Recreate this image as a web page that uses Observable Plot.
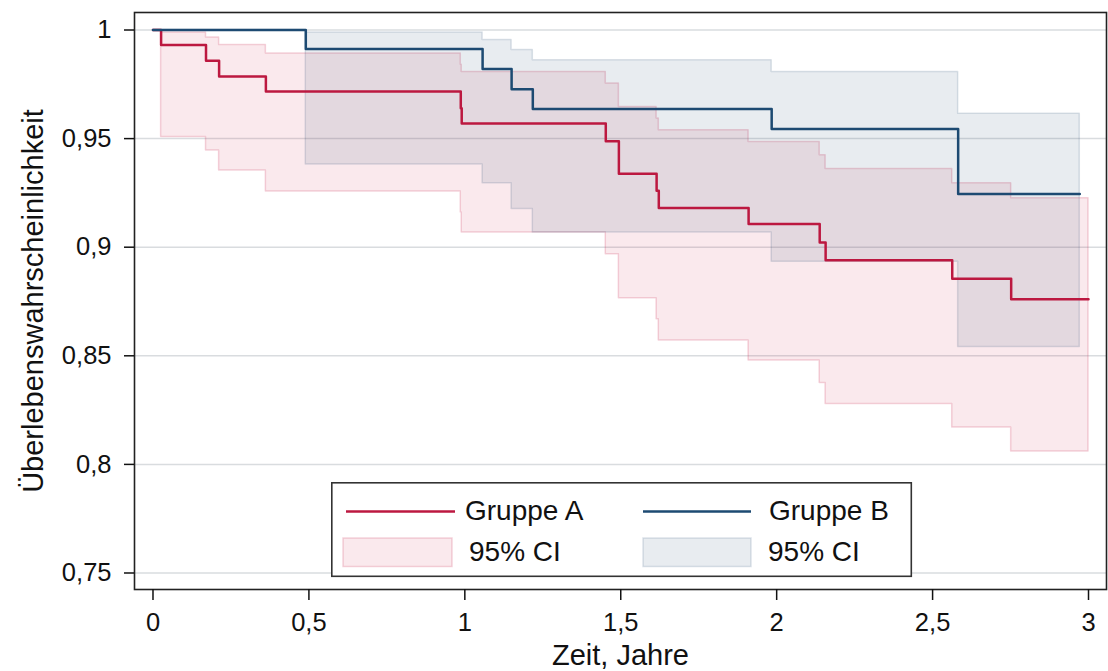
<!DOCTYPE html>
<html><head><meta charset="utf-8">
<script src="https://cdn.jsdelivr.net/npm/d3@7"></script>
<script src="https://cdn.jsdelivr.net/npm/@observablehq/plot@0.6"></script>
<style>
html,body{margin:0;padding:0;background:#fff;}
#wrap{position:relative;width:1108px;height:671px;}
#legend{position:absolute;left:331px;top:482px;}
</style></head><body><div id="wrap"></div>
<script>
// Group A (red) Kaplan-Meier estimate with 95% CI
const timeA  = [0, 0.026, 0.170, 0.212, 0.362, 0.987, 0.990, 1.452, 1.494, 1.615, 1.622, 1.910, 2.138, 2.157, 2.563, 2.752, 3.0];
const survA  = [1, 0.9931, 0.9858, 0.9786, 0.9717, 0.964, 0.9569, 0.9488, 0.9338, 0.926, 0.918, 0.9107, 0.9022, 0.894, 0.8855, 0.876, 0.876];
const lowerA = [1, 0.9507, 0.9445, 0.9353, 0.9257, 0.9160, 0.9068, 0.8968, 0.8765, 0.8668, 0.857, 0.8478, 0.8375, 0.8278, 0.817, 0.8059, 0.8059];
const upperA = [1, 0.9989, 0.9966, 0.9931, 0.9892, 0.984, 0.9807, 0.9754, 0.9646, 0.9592, 0.9538, 0.9484, 0.9423, 0.936, 0.9294, 0.9225, 0.9225];
// Group B (blue)
const timeB  = [0, 0.490, 1.057, 1.150, 1.218, 1.984, 2.582, 2.972];
const survB  = [1, 0.9912, 0.982, 0.9727, 0.9636, 0.9544, 0.9245, 0.9245];
const lowerB = [1, 0.9381, 0.9294, 0.9176, 0.9068, 0.8933, 0.8541, 0.8541];
const upperB = [1, 0.9989, 0.9954, 0.9908, 0.9861, 0.9807, 0.9615, 0.9615];
// Axis ticks and labels
const xTicks = [0, 0.5, 1, 1.5, 2, 2.5, 3];
const yTicks = [0.75, 0.8, 0.85, 0.9, 0.95, 1];
const xTitle = "Zeit, Jahre";
const yTitle = "Überlebenswahrscheinlichkeit";
const legendLabels = ["Gruppe A", "Gruppe B", "95% CI", "95% CI"];

const red = "#bc1840", blue = "#1d4a72";
const fmt = d => String(d).replace(".", ",");
const A = timeA.map((t, i) => ({t, s: survA[i], lo: lowerA[i], hi: upperA[i]}));
const B = timeB.map((t, i) => ({t, s: survB[i], lo: lowerB[i], hi: upperB[i]}));

const chart = Plot.plot({
  width: 1108, height: 671,
  marginLeft: 134, marginRight: 2, marginTop: 12, marginBottom: 82,
  style: {fontFamily: "'Liberation Sans', Arial, sans-serif", fontSize: "25.5px", color: "#111", background: "#fff"},
  x: {domain: [-0.0593, 3.0577]},
  y: {domain: [0.7424, 1.00806]},
  marks: [
    Plot.gridY(yTicks, {stroke: "#d9dcdf", strokeOpacity: 1, strokeWidth: 1.5}),
    Plot.areaY(A, {x: "t", y1: "lo", y2: "hi", curve: "step-after", fill: "rgb(205,40,80)", fillOpacity: 0.1, stroke: "rgb(205,40,80)", strokeOpacity: 0.2, strokeWidth: 1.5}),
    Plot.areaY(B, {x: "t", y1: "lo", y2: "hi", curve: "step-after", fill: "rgb(30,70,110)", fillOpacity: 0.1, stroke: "rgb(30,70,110)", strokeOpacity: 0.15, strokeWidth: 1.5}),
    Plot.line(A, {x: "t", y: "s", curve: "step-after", stroke: red, strokeWidth: 2.5}),
    Plot.line(B, {x: "t", y: "s", curve: "step-after", stroke: blue, strokeWidth: 2.5}),
    Plot.frame({stroke: "#222", strokeWidth: 1.6}),
    Plot.axisY(yTicks, {tickSize: 10, tickPadding: 13, tickFormat: fmt, label: null, strokeWidth: 1.5}),
    Plot.axisX(xTicks, {tickSize: 11, tickPadding: 12, tickFormat: fmt, label: null, strokeWidth: 1.5}),
    Plot.text([xTitle], {frameAnchor: "bottom", dy: 75, lineAnchor: "bottom", textAnchor: "middle", fontSize: 29}),
    Plot.text([yTitle], {frameAnchor: "left", dx: -92, rotate: -90, lineAnchor: "bottom", textAnchor: "middle", fontSize: 29})
  ]
});
const wrap = document.getElementById("wrap");
wrap.appendChild(chart);

// Legend (inside plot area)
const lg = d3.select(wrap).append("svg").attr("id", "legend").attr("width", 582).attr("height", 96)
  .style("font-family", "'Liberation Sans', Arial, sans-serif").style("font-size", "28px");
lg.append("rect").attr("x", 0.8).attr("y", 0.8).attr("width", 579.5).attr("height", 93.5)
  .attr("fill", "#fff").attr("stroke", "#333").attr("stroke-width", 1.6);
lg.append("line").attr("x1", 15).attr("x2", 124).attr("y1", 29.5).attr("y2", 29.5).attr("stroke", red).attr("stroke-width", 2.5);
lg.append("text").attr("x", 134).attr("y", 38).attr("fill", "#111").text(legendLabels[0]);
lg.append("line").attr("x1", 312).attr("x2", 420).attr("y1", 29.5).attr("y2", 29.5).attr("stroke", blue).attr("stroke-width", 2.5);
lg.append("text").attr("x", 438).attr("y", 38).attr("fill", "#111").text(legendLabels[1]);
lg.append("rect").attr("x", 12).attr("y", 56).attr("width", 109).attr("height", 28.5)
  .attr("fill", "rgb(205,40,80)").attr("fill-opacity", 0.1).attr("stroke", "rgb(205,40,80)").attr("stroke-opacity", 0.2).attr("stroke-width", 1.5);
lg.append("text").attr("x", 138).attr("y", 79).attr("fill", "#111").text(legendLabels[2]);
lg.append("rect").attr("x", 312).attr("y", 56).attr("width", 108).attr("height", 28.5)
  .attr("fill", "rgb(30,70,110)").attr("fill-opacity", 0.1).attr("stroke", "rgb(30,70,110)").attr("stroke-opacity", 0.15).attr("stroke-width", 1.5);
lg.append("text").attr("x", 437).attr("y", 79).attr("fill", "#111").text(legendLabels[3]);
</script>
</body></html>
